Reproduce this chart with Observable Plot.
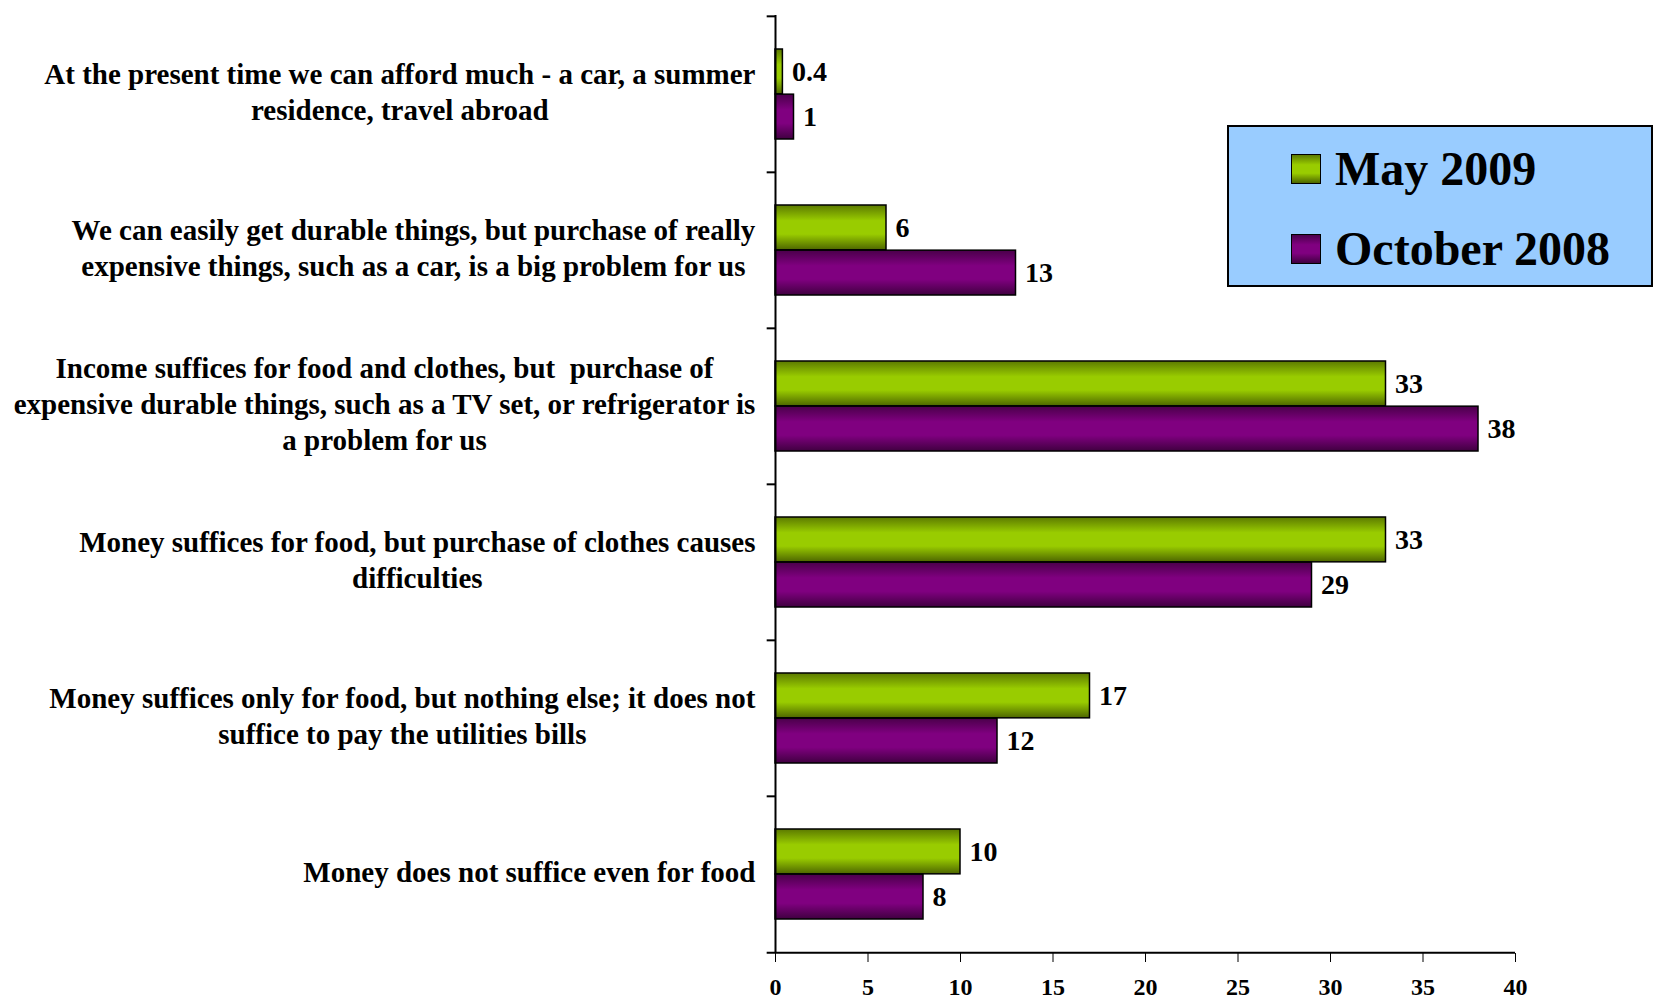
<!DOCTYPE html>
<html>
<head>
<meta charset="utf-8">
<script src="https://cdn.jsdelivr.net/npm/d3@7"></script>
<script src="https://cdn.jsdelivr.net/npm/@observablehq/plot@0.6"></script>
<style>
  html, body { margin: 0; padding: 0; background: #ffffff; }
  #wrap { position: relative; width: 1654px; height: 998px; }
  #legend {
    position: absolute; left: 1227px; top: 125px; width: 422px; height: 158px;
    background: #99ccff; border: 2px solid #000;
    font-family: "Liberation Serif", "Times New Roman", serif; font-weight: bold;
  }
  .item { position: absolute; left: 62px; display: flex; align-items: center; font-size: 48px; line-height: 1; color: #000; }
  .sw { width: 28px; height: 28px; border: 1.5px solid #000; margin-right: 14px; }
</style>
</head>
<body>
<div id="wrap">
  <div id="chart"></div>
  <div id="legend"></div>
</div>
<script>
// ---- data ----
const categories = [
  "At the present time we can afford much - a car, a summer\nresidence, travel abroad",
  "We can easily get durable things, but purchase of really\nexpensive things, such as a car, is a big problem for us",
  "Income suffices for food and clothes, but  purchase of\nexpensive durable things, such as a TV set, or refrigerator is\na problem for us",
  "Money suffices for food, but purchase of clothes causes\ndifficulties",
  "Money suffices only for food, but nothing else; it does not\nsuffice to pay the utilities bills",
  "Money does not suffice even for food"
];
const may2009 = [0.4, 6, 33, 33, 17, 10];
const oct2008 = [1, 13, 38, 29, 12, 8];
const seriesNames = ["May 2009", "October 2008"];
const xTicks = [0, 5, 10, 15, 20, 25, 30, 35, 40];

const rows = categories.map((c, i) => ({category: c, may: may2009[i], oct: oct2008[i]}));

// ---- layout ----
const W = 1654, H = 998;
const mTop = 15, mBottom = 45, mLeft = 775, mRight = 139;
const bw = (H - mTop - mBottom) / categories.length;   // band height
const outer = 33;                                      // gap above/below the bar pair
const barH = (bw - 2 * outer) / 2;

const chart = Plot.plot({
  width: W,
  height: H,
  marginTop: mTop,
  marginBottom: mBottom,
  marginLeft: mLeft,
  marginRight: mRight,
  style: "font-family: 'Liberation Serif', 'Times New Roman', serif; font-weight: bold; font-size: 24px; background: #ffffff; color: #000; overflow: visible;",
  x: {domain: [0, 40], ticks: xTicks, tickSize: 9, tickPadding: 15, label: null, line: false},
  y: {domain: categories, axis: null, padding: 0},
  marks: [
    // bars
    Plot.barX(rows, {y: "category", x: "may", fill: "url(#gGreen)", stroke: "#000", strokeWidth: 1.5,
      insetTop: outer, insetBottom: outer + barH}),
    Plot.barX(rows, {y: "category", x: "oct", fill: "url(#gPurple)", stroke: "#000", strokeWidth: 1.5,
      insetTop: outer + barH, insetBottom: outer}),
    // y axis line and separator ticks
    Plot.ruleX([0], {stroke: "#000", strokeWidth: 2}),
    Plot.ruleY(categories, {y: d => d, x1: -0.45, x2: 0, dy: -bw / 2, stroke: "#000", strokeWidth: 2}),
    Plot.ruleY(categories.slice(-1), {y: d => d, x1: -0.45, x2: 40, dy: bw / 2, stroke: "#000", strokeWidth: 2}),
    // value labels
    Plot.text(rows, {y: "category", x: "may", text: d => String(d.may), textAnchor: "start", dx: 9,
      dy: -bw / 2 + outer + barH / 2, fontSize: 28, fontWeight: "bold", fill: "#000"}),
    Plot.text(rows, {y: "category", x: "oct", text: d => String(d.oct), textAnchor: "start", dx: 9,
      dy: bw / 2 - outer - barH / 2, fontSize: 28, fontWeight: "bold", fill: "#000"}),
    // category labels
    Plot.text(rows, {y: "category", text: "category", frameAnchor: "left", textAnchor: "end", dx: -20, dy: -4,
      fontSize: 29, fontWeight: "bold", lineHeight: 1.23, fill: "#000"})
  ]
});

// gradients for the bars
const defs = document.createElementNS("http://www.w3.org/2000/svg", "defs");
defs.innerHTML = `
  <linearGradient id="gGreen" x1="0" y1="0" x2="0" y2="1">
    <stop offset="0" stop-color="#5c7a00"/>
    <stop offset="0.35" stop-color="#99cc00"/>
    <stop offset="0.65" stop-color="#99cc00"/>
    <stop offset="1" stop-color="#4d6600"/>
  </linearGradient>
  <linearGradient id="gPurple" x1="0" y1="0" x2="0" y2="1">
    <stop offset="0" stop-color="#4a004a"/>
    <stop offset="0.35" stop-color="#800080"/>
    <stop offset="0.65" stop-color="#800080"/>
    <stop offset="1" stop-color="#400040"/>
  </linearGradient>`;
chart.insertBefore(defs, chart.firstChild);

document.getElementById("chart").appendChild(chart);

// center the lines of each category label within its own block (block right-aligned at the axis)
chart.querySelectorAll("text").forEach(t => {
  const spans = t.querySelectorAll("tspan");
  const content = spans.length ? Array.from(spans, s => s.textContent).join("\n") : t.textContent;
  if (!categories.includes(content)) return;
  const w = t.getBBox().width;
  t.setAttribute("text-anchor", "middle");
  spans.forEach(s => s.setAttribute("x", "0"));
  t.setAttribute("transform", (t.getAttribute("transform") || "") + ` translate(${-w / 2},0)`);
});

// legend
const legend = document.getElementById("legend");
const swFill = [
  "linear-gradient(#5c7a00, #99cc00 35%, #99cc00 65%, #4d6600)",
  "linear-gradient(#4a004a, #800080 35%, #800080 65%, #400040)"
];
const tops = [18, 98];
seriesNames.forEach((name, i) => {
  const item = document.createElement("div");
  item.className = "item";
  item.style.top = tops[i] + "px";
  const sw = document.createElement("div");
  sw.className = "sw";
  sw.style.background = swFill[i];
  const label = document.createElement("span");
  label.textContent = name;
  item.appendChild(sw);
  item.appendChild(label);
  legend.appendChild(item);
});
</script>
</body>
</html>
